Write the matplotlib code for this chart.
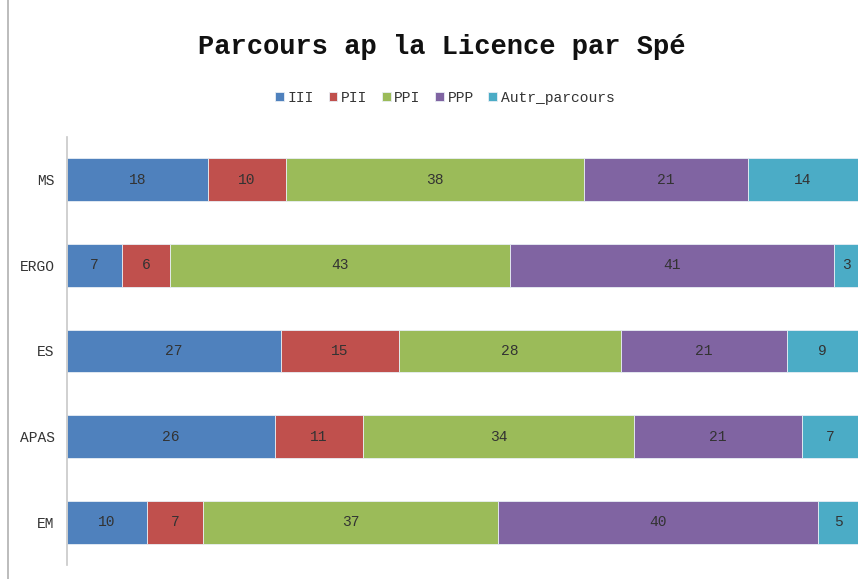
import numpy as np
import matplotlib.pyplot as plt
from matplotlib.lines import Line2D

plt.rcParams['font.family'] = ['Liberation Mono', 'DejaVu Sans Mono']

categories = ['MS', 'ERGO', 'ES', 'APAS', 'EM']
series = ['III', 'PII', 'PPI', 'PPP', 'Autr_parcours']
iii = [18, 7, 27, 26, 10]
pii = [10, 6, 15, 11, 7]
ppi = [38, 43, 28, 34, 37]
ppp = [21, 41, 21, 21, 40]
autr = [14, 3, 9, 7, 5]
colors = ['#4F81BD', '#C0504D', '#9BBB59', '#8064A2', '#4BACC6']

values = np.array([iii, pii, ppi, ppp, autr], dtype=float)
shares = values / values.sum(axis=0) * 100

fig = plt.figure(figsize=(8.62, 5.79), dpi=100)
ax = fig.add_axes([67/862, 1 - 565/579, (858 - 67)/862, (565 - 137)/579])

y = np.arange(len(categories))
left = np.zeros(len(categories))
for i, name in enumerate(series):
    bars = ax.barh(y, shares[i], left=left, height=0.5, color=colors[i],
                   edgecolor='#e8eef4', linewidth=0.6, label=name)
    for j, b in enumerate(bars):
        ax.text(left[j] + shares[i][j] / 2, y[j], '%d' % values[i][j],
                ha='center', va='center', fontsize=10.5, color='#333333')
    left += shares[i]

ax.set_xlim(0, 100)
ax.set_ylim(len(categories) - 0.5, -0.5)
ax.set_yticks(y)
ax.set_yticklabels(categories, fontsize=10.5, color='#333333')
ax.tick_params(axis='y', length=0, pad=9)
ax.set_xticks([])
for s in ['top', 'right', 'bottom']:
    ax.spines[s].set_visible(False)
ax.spines['left'].set_color('#c8c8c8')
ax.spines['left'].set_linewidth(1.2)

fig.text(442/862, 1 - 47/579, 'Parcours ap la Licence par Spé', ha='center', va='center',
         fontsize=19.5, fontweight='bold', color='#111111')

handles, labels = ax.get_legend_handles_labels()
fig.legend(handles, labels, loc='center', bbox_to_anchor=(445/862, 1 - 98/579), ncol=5,
           frameon=False, fontsize=10.5, handlelength=0.6, handleheight=0.6,
           handletextpad=0.25, columnspacing=1.0, labelcolor='#333333')

fig.add_artist(Line2D([8/862, 8/862], [0, 1], transform=fig.transFigure,
                      color='#b0b0b0', linewidth=1.2))

fig.savefig('out.png', dpi=100)
